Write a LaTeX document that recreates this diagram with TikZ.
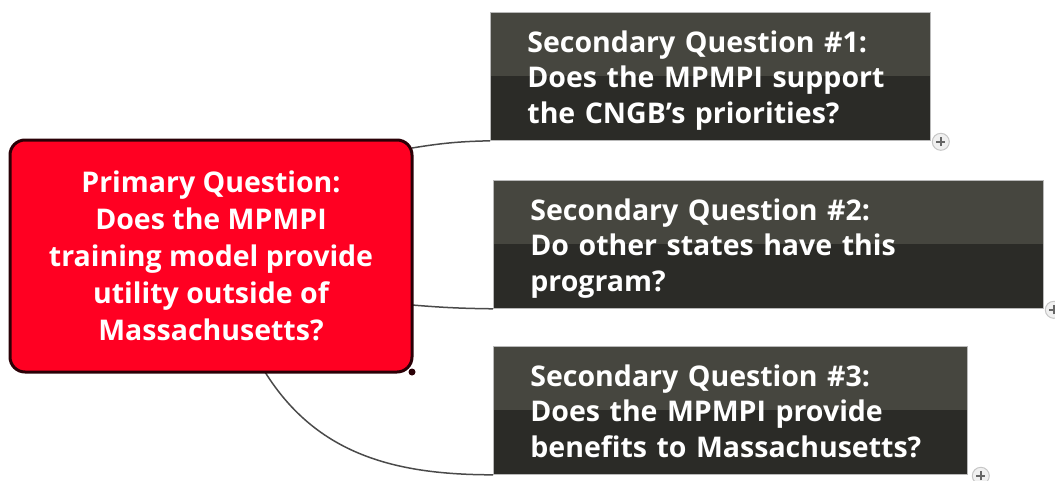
\documentclass[tikz,border=0pt]{standalone}
\usepackage{fontspec}
\setmainfont{Open Sans}
\usetikzlibrary{positioning}

\definecolor{primred}{HTML}{FF0022}
\definecolor{primedge}{HTML}{2A0006}
\definecolor{sectop}{HTML}{46463F}
\definecolor{secbot}{HTML}{2B2B27}
\definecolor{linkgray}{HTML}{4A4A4A}

\tikzset{
  primbox/.style={draw=primedge, line width=3pt, fill=primred, rounded corners=15pt,
    text=white, font=\bfseries\fontsize{28.5}{37}\selectfont, align=center,
    minimum width=402pt, minimum height=232pt, inner sep=0pt},
  secbox/.style={draw=gray!55, line width=0.8pt, fill=sectop, text=white,
    font=\bfseries\fontsize{28.5}{35.5}\selectfont, align=left,
    minimum height=128pt, inner ysep=0pt, inner xsep=37pt, anchor=north west,
    text height=25pt, text depth=73pt,
    path picture={\fill[secbot] (path picture bounding box.west) rectangle (path picture bounding box.south east);}},
  link/.style={draw=linkgray, line width=1.5pt},
  expander/.style={circle, draw=gray!45, fill=gray!12, line width=1pt, minimum size=17pt, inner sep=0pt,
    path picture={\draw[gray!80!black, line width=1.8pt]
      ([xshift=-4.5pt]path picture bounding box.center) -- ([xshift=4.5pt]path picture bounding box.center)
      ([yshift=-4.5pt]path picture bounding box.center) -- ([yshift=4.5pt]path picture bounding box.center);}}
}

\begin{document}
\begin{tikzpicture}[x=1pt,y=-1pt]
  \useasboundingbox (0,0) rectangle (1055,480);

  % secondary questions
  \node[secbox, text width=366pt] (sec1) at (490,12)
    {Secondary Question \#1:\\Does the MPMPI support\\the CNGB's priorities?};
  \node[secbox, text width=476pt] (sec2) at (493,180)
    {Secondary Question \#2:\\Do other states have this\\program?};
  \node[secbox, text width=400pt] (sec3) at (493,346)
    {Secondary Question \#3:\\Does the MPMPI provide\\benefits to Massachusetts?};

  % links
  \coordinate (p1) at (412,148);
  \coordinate (p2) at (412,305);
  \coordinate (p3) at (265,372);
  \draw[link] (p1) to[bend left=4] (sec1.south west);
  \draw[link] (p2) to[bend right=2] (sec2.south west);
  \draw[link] (p3) to[out=-58,in=180] (sec3.south west);

  % primary question
  \node[primbox] (prim) at (211,256)
    {Primary Question:\\Does the MPMPI\\training model provide\\utility outside of\\Massachusetts?};
  \fill[primedge] ([xshift=-1.5pt,yshift=1.5pt]prim.south east) circle (3.5pt);

  % expand buttons
  \node[expander] (x1) at ([xshift=10,yshift=-1]sec1.south east) {};
  \node[expander] (x2) at ([xshift=10,yshift=-1]sec2.south east) {};
  \node[expander] (x3) at ([xshift=13,yshift=-1]sec3.south east) {};
\end{tikzpicture}
\end{document}
